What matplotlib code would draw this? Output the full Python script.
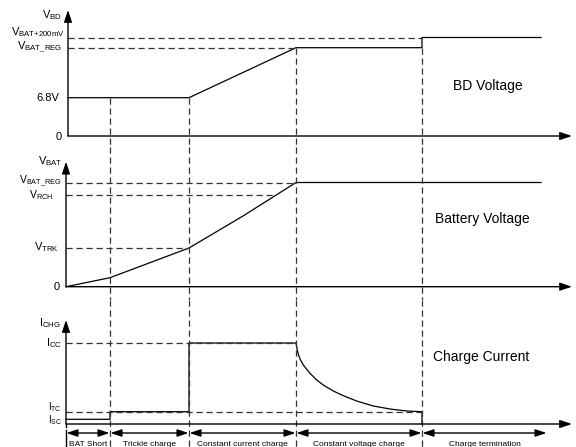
import matplotlib
matplotlib.use('Agg')
import matplotlib.pyplot as plt

plt.rcParams['font.family'] = ['Liberation Sans', 'DejaVu Sans']
plt.rcParams['mathtext.fontset'] = 'custom'
plt.rcParams['mathtext.rm'] = 'Liberation Sans'
plt.rcParams['mathtext.it'] = 'Liberation Sans:italic'
plt.rcParams['mathtext.bf'] = 'Liberation Sans:bold'

# time axis (arbitrary units), phase boundaries
phase_edges = [0, 44, 123, 230, 356, 481]
phase_names = ['BAT Short', 'Trickle charge', 'Constant current charge',
               'Constant voltage charge', 'Charge termination']
t_axis_end = 506

# BD voltage panel (arbitrary units)
bd_t = [2, 123, 230, 356, 356, 475]
bd_v = [38.3, 38.3, 88.3, 88.3, 98.5, 98.5]
bd_ticks = [0, 38.3, 88.3, 98.5]
bd_ticklabels = ['0', '6.8V', r'V$_{\rm BAT{+}200mV}$', r'V$_{\rm BAT\_REG}$']
bd_dash_ends = [356, 230]          # V_BAT+200mV, V_BAT_REG reference lines

# battery voltage panel
bat_t = [0, 44, 123, 177, 230, 475]
bat_v = [0, 9, 38.7, 70.7, 104.2, 104.2]
bat_ticks = [0, 38.7, 91.7, 104.2]
bat_ticklabels = ['0', r'V$_{\rm TRK}$', r'V$_{\rm RCH}$', r'V$_{\rm BAT\_REG}$']
bat_dash_ends = [123, 207, 230]

# charge current panel
chg_t = [0, 44, 44, 123, 123, 230, 231.3, 232.3, 234, 237.3, 244, 250.7,
         257.3, 267.3, 277.3, 290.7, 307.3, 324, 340.7, 356, 356]
chg_i = [4.7, 4.7, 12.3, 12.3, 81, 81, 74, 69.7, 65, 59, 50.7, 44,
         39, 33, 28.3, 23, 18, 15, 13, 12.3, 0]
chg_ticks = [4.7, 12.3, 81]
chg_ticklabels = [r'I$_{\rm SC}$', r'I$_{\rm TC}$', r'I$_{\rm CC}$']
chg_dash_ends = [None, 356, 230]

fig = plt.figure(figsize=(5.76, 4.47), dpi=100)
H = 447.0

def make_panel(top_px, bot_px, base_px):
    ax = fig.add_axes([0, (H - bot_px) / H, 1, (bot_px - top_px) / H])
    ax.set_xlim(-66, 510)
    ax.set_ylim(-(bot_px - base_px), base_px - top_px)
    ax.set_axis_off()
    return ax

ax1 = make_panel(0, 147, 136)
ax2 = make_panel(147, 300, 286.7)
ax3 = make_panel(300, 447, 424)

arrow_kw = dict(arrowstyle='-|>,head_length=0.6,head_width=0.2',
                color='black', lw=1, mutation_scale=12, shrinkA=0, shrinkB=0)
dash_kw = dict(color='#333333', lw=0.9, linestyle=(0, (5, 3)))
curve_kw = dict(color='black', lw=0.9)

def axes_arrows(ax, x0, top):
    ax.annotate('', xy=(t_axis_end, 0), xytext=(x0, 0), arrowprops=arrow_kw)
    ax.annotate('', xy=(x0, top), xytext=(x0, 0), arrowprops=arrow_kw)

def left_label(ax, x, y, s, size=8):
    ax.text(x, y, s, ha='right', va='center', fontsize=size)

# ---- top panel: BD voltage
axes_arrows(ax1, 2, 126)
ax1.plot(bd_t, bd_v, **curve_kw)
ax1.plot([2, bd_dash_ends[0]], [bd_ticks[3], bd_ticks[3]], **dash_kw)
ax1.plot([2, bd_dash_ends[1]], [bd_ticks[2], bd_ticks[2]], **dash_kw)
for t, lev in zip(phase_edges[1:5], [38.3, 38.3, 88.3, 88.3]):
    ax1.plot([t, t], [lev, -11], **dash_kw)
left_label(ax1, -4, 121, r'V$_{\rm BD}$')
left_label(ax1, -7, 38, bd_ticklabels[1])
left_label(ax1, -4, -1, bd_ticklabels[0])
left_label(ax1, -1, 103.5, bd_ticklabels[2])
left_label(ax1, -4, 89, bd_ticklabels[3])
ax1.text(422, 50, 'BD Voltage', ha='center', va='center', fontsize=10)

# ---- middle panel: battery voltage
axes_arrows(ax2, 0, 125)
ax2.plot(bat_t, bat_v, **curve_kw)
for lev, t_end in zip(bat_ticks[1:], bat_dash_ends):
    ax2.plot([0, t_end], [lev, lev], **dash_kw)
for t in phase_edges[1:5]:
    ax2.plot([t, t], [139.7, -13.3], **dash_kw)
left_label(ax2, -4, 125.4, r'V$_{\rm BAT}$')
left_label(ax2, -6, -0.6, bat_ticklabels[0])
left_label(ax2, -7, 39.2, bat_ticklabels[1])
left_label(ax2, -13, 92, bat_ticklabels[2], 7.5)
left_label(ax2, -5, 105.5, bat_ticklabels[3], 7.5)
ax2.text(416.5, 67.7, 'Battery Voltage', ha='center', va='center', fontsize=10)

# ---- bottom panel: charge current
axes_arrows(ax3, 0, 104)
ax3.plot([0, 0], [0, -3], color='black', lw=1)
ax3.plot(chg_t, chg_i, **curve_kw)
ax3.plot([0, chg_dash_ends[1]], [chg_ticks[1], chg_ticks[1]], **dash_kw)
ax3.plot([0, chg_dash_ends[2]], [chg_ticks[2], chg_ticks[2]], **dash_kw)
for t in phase_edges[1:5]:
    ax3.plot([t, t], [124, -23], **dash_kw)
left_label(ax3, -5, 101.3, r'I$_{\rm CHG}$')
left_label(ax3, -4, 80.7, chg_ticklabels[2])
left_label(ax3, -4, 16.5, chg_ticklabels[1], 7)
left_label(ax3, -4, 3.5, chg_ticklabels[0], 7)
ax3.text(415, 67, 'Charge Current', ha='center', va='center', fontsize=10)

# phase arrows and names
dbl_kw = dict(arrowstyle='<|-|>,head_length=0.6,head_width=0.2',
              color='black', lw=1, mutation_scale=11, shrinkA=0, shrinkB=0)
ax3.plot([0, 0], [-6, -22], color='black', lw=1)
for i, name in enumerate(phase_names):
    a, b = phase_edges[i], phase_edges[i + 1]
    ax3.annotate('', xy=(b - 0.5, -9), xytext=(a + 0.5, -9), arrowprops=dbl_kw)
    ax3.text((a + b) / 2, -16.5, name, ha='center', va='top', fontsize=6)

fig.savefig('out.png', dpi=100)
